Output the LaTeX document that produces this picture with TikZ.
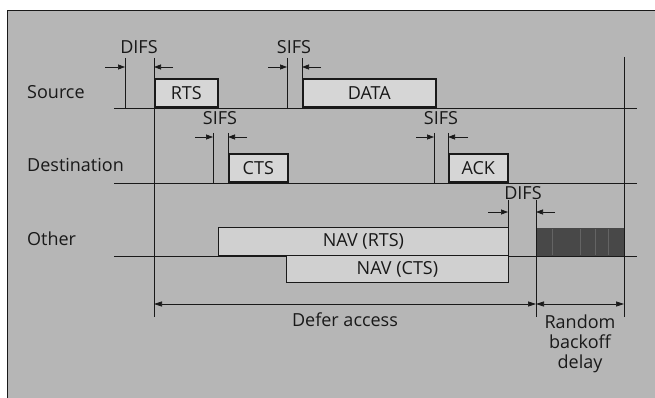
\documentclass[tikz,border=0pt]{standalone}
\usepackage{fontspec}
\setmainfont{Open Sans}
\usetikzlibrary{arrows.meta}
\definecolor{bg}{RGB}{182,182,182}
\definecolor{boxfill}{RGB}{214,214,214}
\definecolor{navfill}{RGB}{208,208,208}
\definecolor{darkbox}{RGB}{72,72,72}
\definecolor{slot}{RGB}{100,100,100}
\definecolor{ink}{RGB}{25,25,25}
\begin{document}
\begin{tikzpicture}[x=1pt,y=-1pt,
  every node/.style={text=ink, font=\fontsize{18}{20}\selectfont},
  pkt/.style={draw=ink, line width=1.6pt, fill=boxfill, minimum height=28pt, inner sep=0pt, anchor=south west},
  nav/.style={draw=ink, line width=0.9pt, fill=navfill, minimum height=28pt, inner sep=0pt, anchor=south west},
  base/.style={draw=ink, line width=0.8pt},
  tick/.style={draw=ink, line width=0.7pt},
  gap/.style={draw=ink, line width=0.7pt, -{Triangle[length=7pt,width=5pt]}},
  span/.style={draw=ink, line width=0.7pt, {Triangle[length=8pt,width=5pt]}-{Triangle[length=8pt,width=5pt]}},
  lbl/.style={inner sep=0pt},
  rowlbl/.style={inner sep=0pt, anchor=west}
]
\useasboundingbox (0,0) rectangle (655,398);
\fill[white] (0,0) rectangle (655,398);
\fill[bg] (7,10) rectangle (655,398);
\draw[ink, line width=0.9pt] (7,398) -- (7,10) -- (655,10);

% row labels
\node[rowlbl] (src) at (27,92) {Source};
\node[rowlbl] (dst) at (27,165) {Destination};
\node[rowlbl] (oth) at (27,239) {Other};

% baselines
\draw[base] (114,108) -- (637,108);
\draw[base] (114,183) -- (637,183);
\draw[base] (114,256) -- (637,256);

% packets
\node[pkt, minimum width=63pt] (rts) at (154,108) {RTS};
\node[pkt, minimum width=133pt] (data) at (302,108) {DATA};
\node[pkt, minimum width=59pt] (cts) at (228,183) {CTS};
\node[pkt, minimum width=59pt] (ack) at (448,183) {ACK};
\node[nav, minimum width=290pt] (navrts) at (218,256) {NAV (RTS)};
\node[nav, minimum width=222pt, minimum height=27pt] (navcts) at (286,283) {NAV (CTS)};
\node[anchor=south west, fill=darkbox, minimum width=88pt, minimum height=28pt, inner sep=0pt] (backoff) at (536,256) {};
\foreach \s in {552,580,595,608} \draw[slot, line width=0.4pt] (\s,229) -- (\s,255);

% timing ticks
\draw[tick] (125,58) -- (125,108);
\draw[tick] (154,58) -- (154,317);
\draw[tick] (287,58) -- (287,108);
\draw[tick] (302,58) -- (302,108);
\draw[tick] (213,133) -- (213,183);
\draw[tick] (228,133) -- (228,183);
\draw[tick] (434,133) -- (434,183);
\draw[tick] (448,133) -- (448,183);
\draw[tick] (508,200) -- (508,283);
\draw[tick] (536,200) -- (536,317);
\draw[tick] (624,57) -- (624,317);

% interframe spaces
\coordinate (d1a) at (105,67); \coordinate (d1b) at (125,67);
\coordinate (d1c) at (173,67); \coordinate (d1d) at (154,67);
\draw[gap] (d1a) -- (d1b); \draw[gap] (d1c) -- (d1d);
\node[lbl] (difs1) at (139,47) {DIFS};

\coordinate (s1a) at (268,67); \coordinate (s1b) at (287,67);
\coordinate (s1c) at (321,67); \coordinate (s1d) at (302,67);
\draw[gap] (s1a) -- (s1b); \draw[gap] (s1c) -- (s1d);
\node[lbl] (sifs1) at (294,47) {SIFS};

\coordinate (s2a) at (195,137); \coordinate (s2b) at (213,137);
\coordinate (s2c) at (247,137); \coordinate (s2d) at (228,137);
\draw[gap] (s2a) -- (s2b); \draw[gap] (s2c) -- (s2d);
\node[lbl] (sifs2) at (220,118) {SIFS};

\coordinate (s3a) at (416,137); \coordinate (s3b) at (434,137);
\coordinate (s3c) at (468,137); \coordinate (s3d) at (448,137);
\draw[gap] (s3a) -- (s3b); \draw[gap] (s3c) -- (s3d);
\node[lbl] (sifs3) at (441,118) {SIFS};

\coordinate (d2a) at (488,212); \coordinate (d2b) at (508,212);
\coordinate (d2c) at (555,212); \coordinate (d2d) at (536,212);
\draw[gap] (d2a) -- (d2b); \draw[gap] (d2c) -- (d2d);
\node[lbl] (difs2) at (523,193) {DIFS};

% spans
\coordinate (defl) at (154,304); \coordinate (defr) at (536,304);
\coordinate (rbr) at (624,304);
\draw[span] (defl) -- (defr);
\draw[span] (defr) -- (rbr);
\node[lbl] (defer) at (345,320) {Defer access};
\node[lbl, align=center] (rbd) at (580,344) {Random\\backoff\\delay};
\end{tikzpicture}
\end{document}
